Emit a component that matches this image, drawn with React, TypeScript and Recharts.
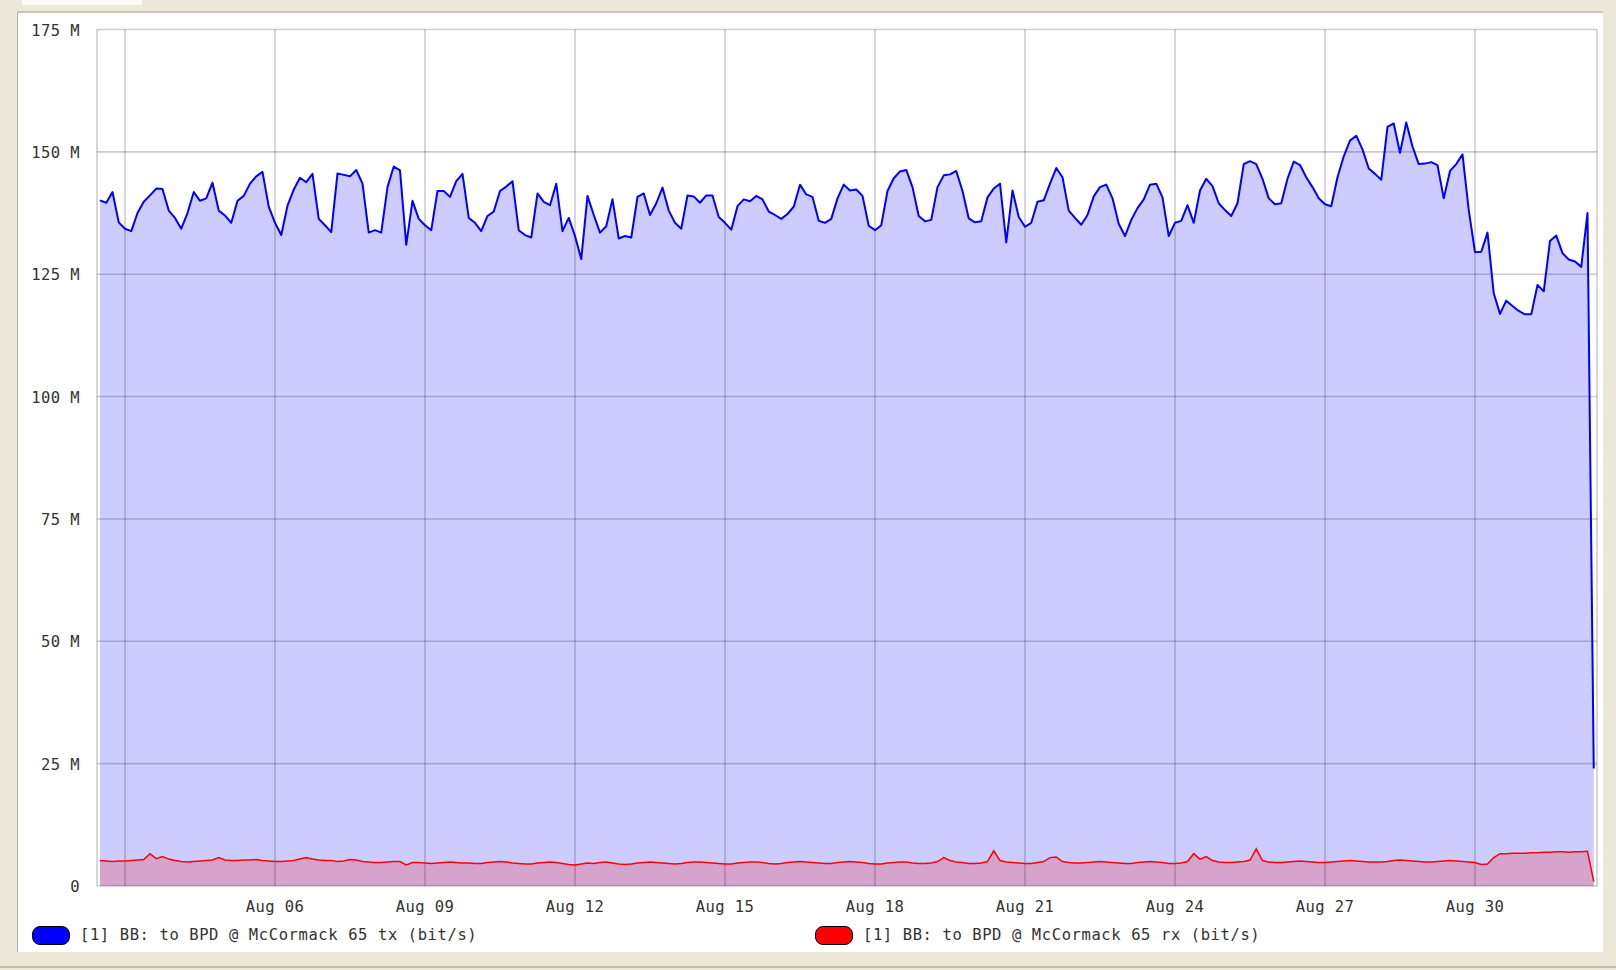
import { ComposedChart, Area, Line, XAxis, YAxis, CartesianGrid } from "recharts"

// time axis: day of August, one sample every 3 hours from Aug 02 12:00
const startDay = 2.5
const stepDays = 0.125

// tx traffic in Mbit/s
const txValues = [
  140.1, 139.6, 141.8, 135.6,
  134.3, 133.8, 137.5, 139.8, 141.1, 142.5, 142.4, 138,
  136.5, 134.3, 137.5, 141.8, 140, 140.5, 143.7, 138,
  137, 135.5, 140, 141, 143.5, 145, 145.9, 138.8,
  135.5, 133, 139, 142.3, 144.7, 143.8, 145.5, 136.3,
  135, 133.6, 145.6, 145.3, 145, 146.3, 143.5, 133.5,
  134, 133.5, 142.8, 147, 146.2, 131, 140, 136.3,
  135, 134, 142, 142, 140.8, 144, 145.5, 136.5,
  135.5, 133.8, 136.9, 137.8, 142, 142.9, 144, 134,
  133, 132.5, 141.5, 139.8, 139.1, 143.5, 133.8, 136.5,
  132.8, 128.1, 141, 137.1, 133.5, 134.8, 140.3, 132.3,
  132.8, 132.5, 140.8, 141.5, 137.1, 139.5, 142.7, 138,
  135.5, 134.3, 141.1, 140.9, 139.6, 141.1, 141.1, 136.7,
  135.5, 134.1, 138.9, 140.3, 139.9, 141, 140.3, 137.8,
  137.1, 136.3, 137.3, 138.8, 143.3, 141.3, 140.8, 135.9,
  135.5, 136.3, 140.5, 143.3, 142.1, 142.3, 141, 134.9,
  134, 135, 142, 144.6, 146, 146.3, 142.8, 136.9,
  135.8, 136.1, 142.8, 145.2, 145.4, 146.1, 142, 136.4,
  135.6, 135.8, 140.7, 142.5, 143.5, 131.5, 142.1, 136.7,
  134.7, 135.5, 139.8, 140.1, 143.5, 146.7, 144.8, 138,
  136.5, 135.1, 137.1, 140.9, 142.8, 143.3, 140.5, 135.3,
  132.8, 136.1, 138.5, 140.3, 143.3, 143.5, 140.7, 132.8,
  135.5, 135.9, 139.1, 135.5, 142.1, 144.5, 143, 139.5,
  138.1, 136.9, 139.5, 147.5, 148.1, 147.5, 144.5, 140.5,
  139.3, 139.5, 144.5, 148, 147.3, 144.8, 142.8, 140.5,
  139.3, 138.9, 144.8, 149.1, 152.3, 153.3, 150.5, 146.6,
  145.5, 144.3, 155.1, 155.8, 149.8, 156, 151.1, 147.5,
  147.6, 147.9, 147.3, 140.5, 146.1, 147.5, 149.5, 138.1,
  129.5, 129.6, 133.5, 121.1, 116.9, 119.6, 118.5, 117.5,
  116.8, 116.8, 122.8, 121.5, 131.8, 132.9, 129.3, 128,
  127.6, 126.5, 137.5, 24,
]

// rx traffic in Mbit/s
const rxValues = [
  5.2, 5.1, 5.0, 5.1,
  5.1, 5.2, 5.3, 5.4, 6.6, 5.6, 6.0, 5.5,
  5.2, 5.0, 4.9, 5.0, 5.1, 5.2, 5.3, 5.8,
  5.3, 5.2, 5.2, 5.3, 5.3, 5.4, 5.2, 5.1,
  5.0, 5.0, 5.1, 5.2, 5.5, 5.8, 5.5, 5.3,
  5.2, 5.2, 5.0, 5.1, 5.4, 5.3, 5.0, 4.9,
  4.8, 4.8, 4.9, 5.0, 5.0, 4.3, 4.8, 4.8,
  4.7, 4.6, 4.7, 4.8, 4.9, 4.8, 4.7, 4.7,
  4.6, 4.6, 4.8, 4.9, 5.0, 4.9, 4.7, 4.6,
  4.5, 4.5, 4.7, 4.8, 4.9, 4.8, 4.6, 4.4,
  4.3, 4.5, 4.7, 4.6, 4.8, 4.9, 4.7, 4.5,
  4.4, 4.5, 4.7, 4.8, 4.9, 4.8, 4.7, 4.6,
  4.5, 4.6, 4.8, 4.9, 4.9, 4.8, 4.7, 4.6,
  4.5, 4.5, 4.7, 4.8, 4.9, 4.9, 4.8, 4.6,
  4.5, 4.6, 4.8, 4.9, 5.0, 4.9, 4.8, 4.7,
  4.6, 4.6, 4.8, 4.9, 5.0, 4.9, 4.8, 4.6,
  4.5, 4.5, 4.7, 4.8, 4.9, 4.9, 4.7, 4.6,
  4.6, 4.7, 5.0, 5.8, 5.2, 4.9, 4.8, 4.6,
  4.6, 4.7, 5.0, 7.2, 5.2, 4.9, 4.8, 4.7,
  4.6, 4.6, 4.8, 5.0, 5.8, 5.9, 5.0, 4.8,
  4.7, 4.7, 4.8, 4.9, 5.0, 4.9, 4.8, 4.7,
  4.6, 4.6, 4.8, 4.9, 5.0, 4.9, 4.8, 4.6,
  4.6, 4.7, 5.0, 6.6, 5.5, 6.0, 5.2, 4.9,
  4.8, 4.8, 4.9, 5.0, 5.3, 7.6, 5.2, 4.9,
  4.8, 4.8, 4.9, 5.0, 5.1, 5.0, 4.9, 4.8,
  4.8, 4.9, 5.0, 5.1, 5.2, 5.1, 5.0, 4.9,
  4.9, 4.9, 5.0, 5.2, 5.3, 5.2, 5.1, 5.0,
  4.9, 4.9, 5.0, 5.1, 5.2, 5.1, 5.0, 4.9,
  4.8, 4.4, 4.5, 5.8, 6.6, 6.6, 6.7, 6.7,
  6.7, 6.8, 6.8, 6.9, 6.9, 7.0, 7.0, 6.9,
  7.0, 7.0, 7.1, 0.9,
]

const xTicks = [3, 6, 9, 12, 15, 18, 21, 24, 27, 30]
const yTicks = [0, 25, 50, 75, 100, 125, 150, 175]

const series = [
  { key: "tx", name: "[1] BB: to BPD @ McCormack 65 tx (bit/s)", color: "#0000ff" },
  { key: "rx", name: "[1] BB: to BPD @ McCormack 65 rx (bit/s)", color: "#ff0000" },
]

const data = txValues.map((tx, i) => ({ t: startDay + i * stepDays, tx, rx: rxValues[i] }))

const font = "'DejaVu Sans Mono', monospace"
const textColor = "#333"

function XTick(props: any) {
  const { x, y, payload } = props
  if (payload.value === 3) return <g />
  const label = `Aug ${String(payload.value).padStart(2, "0")}`
  return (
    <text x={x} y={y + 26} textAnchor="middle" fontFamily={font} fontSize={15.5} fill={textColor} letterSpacing={0.4}>
      {label}
    </text>
  )
}

function YTick(props: any) {
  const { x, y, payload } = props
  const label = payload.value === 0 ? "0" : `${payload.value} M`
  return (
    <text x={x - 17} y={y + 6} textAnchor="end" fontFamily={font} fontSize={15.5} fill={textColor} letterSpacing={0.4}>
      {label}
    </text>
  )
}

export default function App() {
  const legendLeft = [32, 815]
  return (
    <div style={{ position: "absolute", left: 0, top: 0, width: 1616, height: 970, background: "#ece9d8", overflow: "hidden" }}>
      {/* window frame bits */}
      <div style={{ position: "absolute", left: 22, top: 0, width: 120, height: 5, background: "#fbfaf6" }}></div>
      <div
        style={{
          position: "absolute",
          left: 17,
          top: 11,
          width: 1586,
          height: 941,
          background: "#fff",
          borderTop: "2px solid #c9c5b2",
          borderLeft: "1px solid #b5b5b5",
          boxSizing: "border-box",
        }}
      ></div>
      <div style={{ position: "absolute", left: 0, top: 966, width: 1616, height: 2, background: "#c2beaa" }}></div>

      <div style={{ position: "absolute", left: 0, top: 0 }}>
        <ComposedChart width={1616} height={970} data={data} margin={{ top: 29.5, right: 19, bottom: 54, left: 0 }}>
          <XAxis
            dataKey="t"
            type="number"
            domain={[2.44, 32.44]}
            ticks={xTicks}
            tick={<XTick />}
            tickLine={false}
            axisLine={false}
            tickSize={0}
            tickMargin={0}
            height={30}
            allowDataOverflow
          />
          <YAxis
            type="number"
            domain={[0, 175]}
            ticks={yTicks}
            tick={<YTick />}
            tickLine={false}
            axisLine={false}
            tickSize={0}
            tickMargin={0}
            width={97}
          />
          <Area dataKey="tx" type="linear" stroke="none" fill="#0000ff" fillOpacity={0.2} isAnimationActive={false} />
          <Area dataKey="rx" type="linear" stroke="none" fill="#ff0000" fillOpacity={0.2} isAnimationActive={false} />
          <CartesianGrid stroke="#000" strokeOpacity={0.2} strokeWidth={1.6} zIndex={200} />
          <Line dataKey="tx" type="linear" stroke="#0000ff" strokeWidth={2} strokeLinejoin="round" dot={false} isAnimationActive={false} />
          <Line dataKey="rx" type="linear" stroke="#ff0000" strokeWidth={1.5} dot={false} isAnimationActive={false} />
        </ComposedChart>
      </div>

      {series.map((s, i) => (
        <div
          key={s.key}
          style={{ position: "absolute", left: legendLeft[i], top: 925, height: 20, display: "flex", alignItems: "center", gap: 10 }}
        >
          <div
            style={{
              width: 38,
              height: 19,
              borderRadius: 8,
              background: s.color,
              border: "1px solid #000",
              boxSizing: "border-box",
            }}
          ></div>
          <span style={{ fontFamily: font, fontSize: 15.5, color: textColor, letterSpacing: 0.6, whiteSpace: "pre" }}>{s.name}</span>
        </div>
      ))}
    </div>
  )
}
